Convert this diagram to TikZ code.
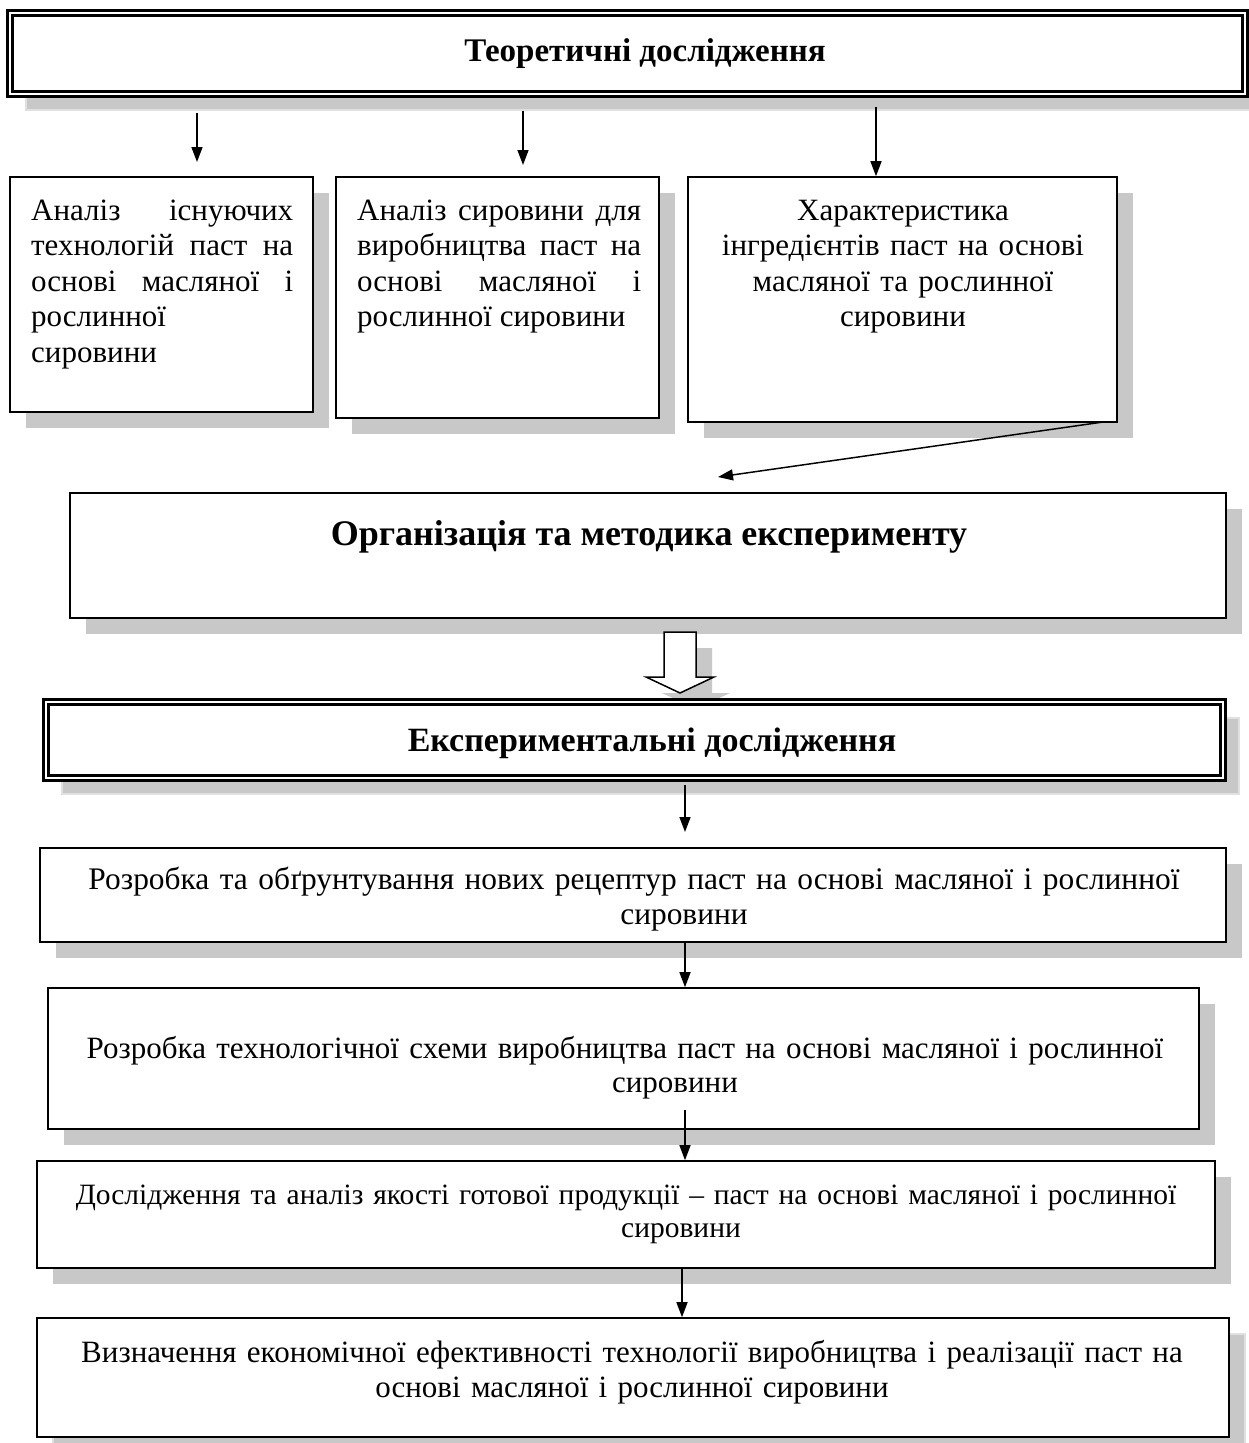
\documentclass[tikz,border=0pt]{standalone}
\usepackage{fontspec}
\setmainfont{Liberation Serif}
\usetikzlibrary{arrows.meta,fit,shadows}
\definecolor{shd}{HTML}{C8C8C8}
\definecolor{shdl}{HTML}{E0E0E0}
\begin{document}
\begin{tikzpicture}[x=1pt,y=-1pt,
  box/.style={draw,line width=1.6pt,fill=white,inner sep=0pt},
  sh/.style={drop shadow={shadow xshift=16pt,shadow yshift=-16pt,fill=shd,opacity=1}},
  shl/.style={drop shadow={shadow xshift=16pt,shadow yshift=-16pt,fill=shd,draw=shdl,line width=2pt,opacity=1}},
  dbl/.style={draw,double,line width=2.6pt,double distance=2.4pt,fill=white,inner sep=0pt},
  arr/.style={line width=1.5pt,-{Triangle[length=15pt,width=11pt]}},
  txt/.style={inner sep=0pt,font=\fontsize{31}{35.5}\selectfont},
  ttl/.style={inner sep=0pt,font=\fontsize{33}{38}\selectfont\bfseries},
]
\useasboundingbox (0,0) rectangle (1248,1443);

% top
\node[dbl,shl,fit={(10,13)(1245,94)}] (top) {};
\node[ttl,anchor=base] (toptxt) at (645,61) {Теоретичні дослідження};

% three boxes
\node[box,sh,fit={(10,177)(313,412)}] (b1) {};
\node[box,sh,fit={(336,177)(659,418)}] (b2) {};
\node[box,sh,fit={(688,177)(1117,422)}] (b3) {};
\node[txt,anchor=base west,text width=262pt,align=justify] (b1txt) at (31,220)
  {Аналіз існуючих\linebreak технологій паст на\linebreak основі масляної і\linebreak рослинної\par сировини};
\node[txt,anchor=base west,text width=284pt,align=justify] (b2txt) at (357,220)
  {Аналіз сировини для\linebreak виробництва паст на\linebreak основі масляної і\linebreak рослинної сировини};
\node[txt,anchor=base,text width=420pt,align=center] (b3txt) at (903,220)
  {Характеристика\\ інгредієнтів паст на основі\\ масляної та рослинної\\ сировини};

\coordinate (a1s) at (197,113); \coordinate (a1e) at (197,162);
\coordinate (a2s) at (523,111); \coordinate (a2e) at (523,165);
\coordinate (a3s) at (876,107);
\draw[arr] (a1s) -- (a1e);
\draw[arr] (a2s) -- (a2e);
\draw[arr] (a3s) -- (a3s |- b3.north);

% organisation
\node[box,sh,fit={(70,493)(1226,618)}] (org) {};
\node[ttl,font=\fontsize{36}{42}\selectfont\bfseries,anchor=base] (orgtxt) at (649,545) {Організація та методика експерименту};
\coordinate (a4s) at (1103,422); \coordinate (a4e) at (718,477);
\draw[arr] (a4s) -- (a4e);

% hollow arrow
\draw[line width=1.5pt,fill=white,drop shadow={shadow xshift=16pt,shadow yshift=-16pt,fill=shd,opacity=1}]
  (664,632) -- (696,632) -- (696,677) -- (714,677) -- (680,693) -- (646,677) -- (664,677) -- cycle;

% experimental
\node[dbl,shl,fit={(46,702)(1223,778)}] (exp) {};
\node[ttl,font=\fontsize{34}{40}\selectfont\bfseries,anchor=base] (exptxt) at (652,751) {Експериментальні дослідження};

\coordinate (a5s) at (685,785); \coordinate (a5e) at (685,832);
\draw[arr] (a5s) -- (a5e);

% lower boxes
\node[box,sh,fit={(40,848)(1226,942)}] (r1) {};
\node[txt,font=\fontsize{31.4}{35}\selectfont,anchor=base,text width=1180pt,align=center] (r1txt) at (634,889)
  {Розробка та обґрунтування нових рецептур паст на основі масляної і рослинної\\ \hspace*{100pt}сировини};

\node[box,sh,fit={(48,988)(1199,1129)}] (r2) {};
\node[txt,font=\fontsize{31}{34}\selectfont,anchor=base,text width=1150pt,align=center] (r2txt) at (625,1058)
  {Розробка технологічної схеми виробництва паст на основі масляної і рослинної\\ \hspace*{100pt}сировини};
\coordinate (a6s) at (685,942);
\draw[arr] (a6s) -- (a6s |- r2.north);

\node[box,sh,fit={(37,1161)(1215,1268)}] (r3) {};
\node[txt,font=\fontsize{29.5}{33}\selectfont,anchor=base,text width=1170pt,align=center] (r3txt) at (626,1204)
  {Дослідження та аналіз якості готової продукції – паст на основі масляної і рослинної\\ \hspace*{110pt}сировини};
\coordinate (a7s) at (685,1110);
\draw[arr] (a7s) -- (a7s |- r3.north);

\node[box,shl,fit={(37,1318)(1229,1437)}] (r4) {};
\node[txt,font=\fontsize{31}{35}\selectfont,anchor=base,text width=1190pt,align=center] (r4txt) at (632,1362)
  {Визначення економічної ефективності технології виробництва і реалізації паст на\\ основі масляної і рослинної сировини};
\coordinate (a8s) at (682,1268);
\draw[arr] (a8s) -- (a8s |- r4.north);
\end{tikzpicture}
\end{document}
